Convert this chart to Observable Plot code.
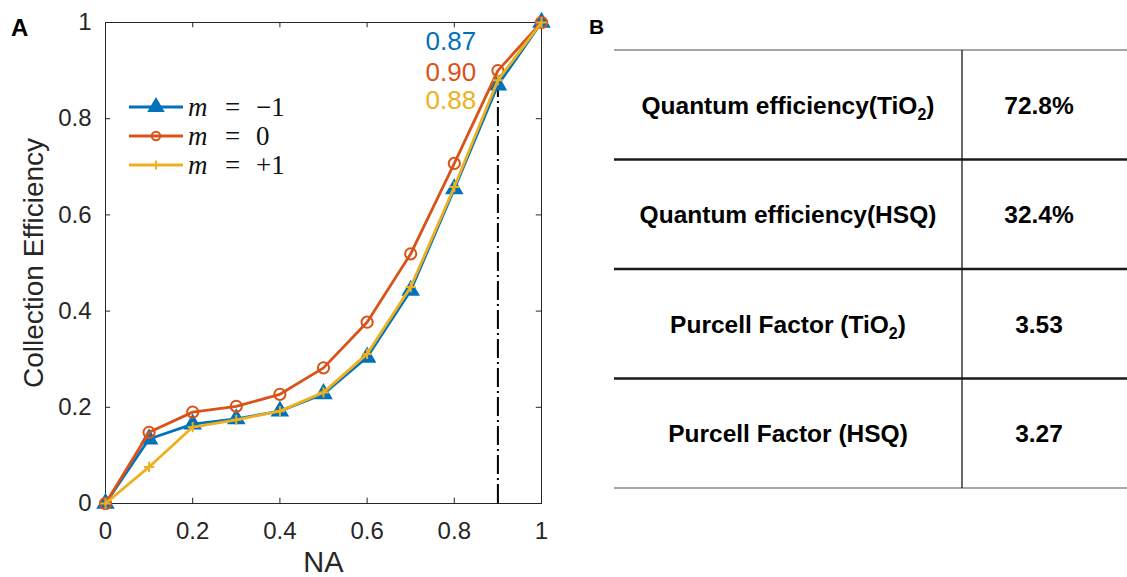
<!DOCTYPE html>
<html><head><meta charset="utf-8">
<script src="https://cdn.jsdelivr.net/npm/d3@7"></script>
<script src="https://cdn.jsdelivr.net/npm/@observablehq/plot@0.6"></script>
<style>
body{margin:0;background:#fff;}
#wrap{position:relative;width:1127px;height:577px;overflow:hidden;background:#fff;}
#chart{position:absolute;left:0;top:0;}
#overlay{position:absolute;left:0;top:0;}
</style></head>
<body><div id="wrap"><div id="chart"></div><svg id="overlay" width="1127" height="577"></svg></div>
<script>
// ---- data ----
const na = [0, 0.1, 0.2, 0.3, 0.4, 0.5, 0.6, 0.7, 0.8, 0.9, 1.0];
const mMinus1 = [0, 0.134, 0.165, 0.176, 0.192, 0.228, 0.304, 0.443, 0.654, 0.87, 1.0];
const m0      = [0, 0.148, 0.190, 0.202, 0.227, 0.282, 0.377, 0.519, 0.707, 0.90, 1.0];
const mPlus1  = [0, 0.076, 0.159, 0.174, 0.192, 0.231, 0.311, 0.450, 0.658, 0.88, 1.0];
const seriesNames = ["m = −1", "m = 0", "m = +1"];
const seriesColors = ["#0072BD", "#D95319", "#EDB120"];
const seriesSymbols = ["triangle", "circle", "plus"];
const xTicks = [0, 0.2, 0.4, 0.6, 0.8, 1];
const yTicks = [0, 0.2, 0.4, 0.6, 0.8, 1];
const markNA = 0.9;
const tableLabels = [["Quantum efficiency(TiO", "2", ")"], ["Quantum efficiency(HSQ)"], ["Purcell Factor (TiO", "2", ")"], ["Purcell Factor (HSQ)"]];
const tableValues = ["72.8%", "32.4%", "3.53", "3.27"];

// ---- build table of rows ----
const allSeries = [mMinus1, m0, mPlus1];
const rows = [];
allSeries.forEach((arr, k) => arr.forEach((v, i) => rows.push({na: na[i], ce: v, s: seriesNames[k], k})));
const markIdx = na.indexOf(markNA);

const axisColor = "#262626";
const symSize = {triangle: 5.6, circle: 5.6, plus: 3.4};
const legSize = {triangle: 5.2, circle: 4.2, plus: 3.0};

const marks = [
  Plot.frame({stroke: axisColor, strokeWidth: 1}),
  // inward ticks on all four sides
  Plot.ruleX(xTicks, {x: d => d, y1: 0, y2: 0.011, stroke: axisColor}),
  Plot.ruleX(xTicks, {x: d => d, y1: 0.989, y2: 1, stroke: axisColor}),
  Plot.ruleY(yTicks, {y: d => d, x1: 0, x2: 0.012, stroke: axisColor}),
  Plot.ruleY(yTicks, {y: d => d, x1: 0.988, x2: 1, stroke: axisColor}),
  Plot.axisX({ticks: xTicks, tickSize: 0, tickPadding: 18, fontSize: 24, tickFormat: d => String(d), label: null, fill: axisColor}),
  Plot.axisY({ticks: yTicks, tickSize: 0, tickPadding: 14, fontSize: 24, tickFormat: d => String(d), label: null, fill: axisColor}),
  Plot.text(["NA"], {frameAnchor: "bottom", dy: 59, lineAnchor: "middle", fontSize: 29, fill: axisColor}),
  Plot.text(["Collection Efficiency"], {frameAnchor: "left", dx: -71, rotate: -90, textAnchor: "middle", lineAnchor: "middle", fontSize: 28, fill: axisColor}),
  // dash-dot marker line at NA = 0.9
  Plot.ruleX([markNA], {y1: 0, y2: mMinus1[markIdx], stroke: "black", strokeWidth: 2, strokeDasharray: "19,4,2,4"})
];
allSeries.forEach((arr, k) => {
  const d = rows.filter(r => r.k === k);
  marks.push(Plot.line(d, {x: "na", y: "ce", stroke: seriesColors[k], strokeWidth: 2.8}));
  const sym = seriesSymbols[k];
  marks.push(Plot.dot(d, {x: "na", y: "ce", symbol: () => sym, r: symSize[sym],
    stroke: seriesColors[k], strokeWidth: 2,
    fill: sym === "triangle" ? seriesColors[k] : "none"}));
});
// value labels at NA = 0.9
const labelDy = [19, 50, 78];
allSeries.forEach((arr, k) => {
  marks.push(Plot.text([arr[markIdx]], {x: () => markNA, text: d => d.toFixed(2), frameAnchor: "top",
    lineAnchor: "middle", dy: labelDy[k], dx: -47, fontSize: 26, fill: seriesColors[k]}));
});

const chart = Plot.plot({
  width: 560, height: 577,
  marginLeft: 105, marginRight: 19, marginTop: 22, marginBottom: 74,
  x: {domain: [0, 1]}, y: {domain: [0, 1]},
  style: {fontFamily: "'Liberation Sans', Arial, sans-serif", background: "transparent", overflow: "visible"},
  marks
});
document.getElementById("chart").appendChild(chart);

// ---- overlay: legend, panel labels, table ----
const svg = d3.select("#overlay");
const font = "'Liberation Sans', Arial, sans-serif";

svg.append("text").attr("x", 11).attr("y", 36).attr("font-family", font).attr("font-weight", "bold").attr("font-size", 24).text("A");
svg.append("text").attr("x", 589).attr("y", 34).attr("font-family", font).attr("font-weight", "bold").attr("font-size", 21).text("B");

// legend
const symTypes = {triangle: d3.symbolTriangle, circle: d3.symbolCircle, plus: d3.symbolPlus};
seriesNames.forEach((name, k) => {
  const y = 107 + k * 29;
  const g = svg.append("g");
  g.append("line").attr("x1", 129).attr("x2", 183).attr("y1", y).attr("y2", y)
    .attr("stroke", seriesColors[k]).attr("stroke-width", 3);
  const sym = seriesSymbols[k];
  g.append("path").attr("transform", `translate(156,${y})`)
    .attr("d", d3.symbol(symTypes[sym], Math.PI * legSize[sym] ** 2)())
    .attr("stroke", seriesColors[k]).attr("stroke-width", 2)
    .attr("fill", sym === "triangle" ? seriesColors[k] : "none");
  const parts = name.split(" = ");
  const t = g.append("text").attr("y", y + 9).attr("font-family", "'Liberation Serif', 'DejaVu Serif', serif").attr("font-size", 27).attr("fill", "#111");
  t.append("tspan").attr("x", 188).attr("font-style", "italic").text(parts[0]);
  t.append("tspan").attr("x", 225).text("=");
  t.append("tspan").attr("x", 256).text(parts[1]);
});

// table
const tLeft = 614, tRight = 1127, tTop = 50, tBottom = 488, colX = 962;
const rowH = (tBottom - tTop) / tableValues.length;
svg.append("line").attr("x1", tLeft).attr("x2", tRight).attr("y1", tTop).attr("y2", tTop).attr("stroke", "#a6a6a6").attr("stroke-width", 2);
svg.append("line").attr("x1", tLeft).attr("x2", tRight).attr("y1", tBottom).attr("y2", tBottom).attr("stroke", "#a6a6a6").attr("stroke-width", 2);
for (let i = 1; i < tableValues.length; i++) {
  const y = tTop + i * rowH;
  svg.append("line").attr("x1", tLeft).attr("x2", tRight).attr("y1", y).attr("y2", y).attr("stroke", "#1a1a1a").attr("stroke-width", 2.5);
}
svg.append("line").attr("x1", colX).attr("x2", colX).attr("y1", tTop).attr("y2", tBottom).attr("stroke", "#1a1a1a").attr("stroke-width", 1.3);
tableValues.forEach((v, i) => {
  const cy = tTop + (i + 0.5) * rowH + 9;
  const t = svg.append("text").attr("x", 788).attr("y", cy).attr("text-anchor", "middle")
    .attr("font-family", font).attr("font-weight", "bold").attr("font-size", 24.5).attr("fill", "#000");
  const lab = tableLabels[i];
  t.append("tspan").text(lab[0]);
  if (lab.length > 1) {
    t.append("tspan").attr("dy", 6).attr("font-size", 16).text(lab[1]);
    t.append("tspan").attr("dy", -6).text(lab[2]);
  }
  svg.append("text").attr("x", 1039).attr("y", cy).attr("text-anchor", "middle")
    .attr("font-family", font).attr("font-weight", "bold").attr("font-size", 24.5).attr("fill", "#000").text(v);
});
</script>
</body></html>
